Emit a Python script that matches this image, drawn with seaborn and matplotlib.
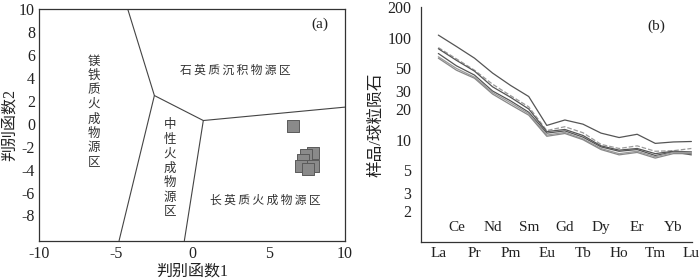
import matplotlib
matplotlib.use("Agg")
import matplotlib.pyplot as plt
import seaborn as sns
import numpy as np
import pandas as pd

sns.set_theme(style="white")
plt.rcParams['font.family'] = ['Liberation Serif', 'Noto Sans CJK SC', 'DejaVu Sans']
plt.rcParams['axes.unicode_minus'] = False

# ---------- data (a) ----------
sample_f1 = [6.58, 7.93, 7.43, 7.28, 7.13, 7.93, 7.60]
sample_f2 = [-0.23, -2.56, -2.70, -3.14, -3.66, -3.66, -3.95]

b1_x = [-4.21, -2.47, 0.73, 10.0]
b1_y = [10.0, 2.47, 0.29, 1.46]
b2_x = [-4.78, -2.47]
b2_y = [-10.2, 2.47]
b3_x = [-0.51, 0.73]
b3_y = [-10.2, 0.29]

region_mafic = "镁铁质火成物源区"
region_inter = "中性火成物源区"
region_quartz = "石英质沉积物源区"
region_felsic = "长英质火成物源区"

# ---------- data (b) ----------
ree = ["La", "Ce", "Pr", "Nd", "Pm", "Sm", "Eu", "Gd", "Tb", "Dy", "Ho", "Er", "Tm", "Yb", "Lu"]
s1 = [106, 82, 63, 45, 34, 26.5, 13.8, 15.6, 14.2, 11.6, 10.5, 11.3, 9.2, 9.5, 9.6]
s2 = [80, 62, 48, 35, 27, 21.0, 12.3, 13.4, 11.7, 9.0, 8.2, 8.7, 7.7, 7.8, 8.2]
s3 = [78, 60, 47, 33, 26, 20.0, 12.0, 12.6, 11.0, 8.7, 7.9, 8.2, 7.3, 7.7, 7.6]
s4 = [70, 53, 43, 30, 24, 18.6, 11.6, 12.2, 10.6, 8.5, 7.7, 8.0, 7.0, 7.6, 7.1]
s5 = [65, 50, 41, 29, 23, 18.0, 11.1, 11.8, 10.2, 8.2, 7.3, 7.7, 6.8, 7.5, 7.5]
s6 = [63, 48, 40, 28, 22, 17.4, 10.8, 11.5, 10.0, 8.0, 7.1, 7.5, 6.6, 7.3, 7.3]
series = [s1, s2, s3, s4, s5, s6]
series_colors = ["#555555", "#9a9a9a", "#555555", "#555555", "#9a9a9a", "#888888"]
series_styles = ["-", "--", "-", "-", "-", "-"]

yticks_b = [2, 3, 5, 10, 20, 30, 50, 100, 200]

fig = plt.figure(figsize=(7.0, 2.79), dpi=100)

# ================= panel (a) =================
ax = fig.add_axes([0.0561, 0.1373, 0.4368, 0.8294])
for bx, by in [(b1_x, b1_y), (b2_x, b2_y), (b3_x, b3_y)]:
    ax.plot(bx, by, color="#444444", lw=0.8)
df_a = pd.DataFrame({"f1": sample_f1, "f2": sample_f2})
sns.scatterplot(data=df_a, x="f1", y="f2", ax=ax, marker="s", s=68,
                color="#8a8a8a", edgecolor="#5a5a5a", linewidth=0.7, zorder=3)
ax.set_xlim(-10, 10)
ax.set_ylim(-10.2, 10)
ax.set_xticks([-10, -5, 0, 5, 10])
ax.set_yticks([-8, -6, -4, -2, 0, 2, 4, 6, 8, 10])
ax.tick_params(axis="x", direction="in", length=4, width=0.8, labelsize=11.5,
               colors="#222222", pad=4)
ax.tick_params(axis="y", direction="in", length=4, width=0.8, labelsize=11.5,
               colors="#222222", pad=3)
for sp in ax.spines.values():
    sp.set_color("#333333")
    sp.set_linewidth(0.9)
ax.set_xlabel("判别函数1", fontsize=11.5, labelpad=1, color="#222222")
ax.set_ylabel("判别函数2", fontsize=11.5, labelpad=1, color="#222222")

tc = "#333333"
ax.text(-6.43, 1.07, "\n".join(region_mafic), ha="center", va="center", fontsize=9,
        linespacing=1.15, color=tc, family=['Noto Sans CJK SC'])
ax.text(-1.45, -3.87, "\n".join(region_inter), ha="center", va="center", fontsize=9,
        linespacing=1.15, color=tc, family=['Noto Sans CJK SC'])
ax.text(2.81, 4.71, " ".join(region_quartz).replace(" ", "\u2009"), ha="center", va="center",
        fontsize=8.5, color=tc, family=['Noto Sans CJK SC', 'DejaVu Sans'])
ax.text(4.77, -6.63, " ".join(region_felsic).replace(" ", "\u2009"), ha="center", va="center",
        fontsize=8.5, color=tc, family=['Noto Sans CJK SC', 'DejaVu Sans'])
ax.text(8.36, 8.72, "(a)", ha="center", va="center", fontsize=11, color="#222222")

# ================= panel (b) =================
bx_ = fig.add_axes([0.6014, 0.1337, 0.3876, 0.8413])
pos = list(range(len(ree)))
for vals, c, ls in zip(series, series_colors, series_styles):
    sns.lineplot(x=pos, y=vals, ax=bx_, color=c, linestyle=ls, lw=0.9)
bx_.set_yscale("log")
bx_.set_ylim(1.0, 200)
bx_.set_xlim(-0.96, 14.05)
bx_.set_yticks(yticks_b)
bx_.set_yticklabels([str(v) for v in yticks_b])
bx_.yaxis.set_minor_locator(matplotlib.ticker.NullLocator())
bx_.tick_params(axis="y", direction="out", length=5, width=0.8, labelsize=11.5,
                colors="#222222", pad=2)
bx_.set_xticks(pos)
bx_.set_xticklabels([r if i % 2 == 0 else "" for i, r in enumerate(ree)])
bx_.tick_params(axis="x", direction="in", length=5, width=0.8, labelsize=11,
                colors="#222222", pad=4)
for i, r in enumerate(ree):
    if i % 2 == 1:
        bx_.text(i, 0.062, r, transform=bx_.get_xaxis_transform(), ha="center",
                 va="center", fontsize=11, color="#222222")
for s in ["top", "right"]:
    bx_.spines[s].set_visible(False)
for s in ["left", "bottom"]:
    bx_.spines[s].set_color("#333333")
    bx_.spines[s].set_linewidth(0.9)
bx_.set_ylabel("样品/球粒陨石", fontsize=12, labelpad=2, color="#222222")
bx_.set_xlabel("")
bx_.text(12.07, 130, "(b)", ha="center", va="center", fontsize=11, color="#222222")

fig.savefig("out.png", dpi=100)
